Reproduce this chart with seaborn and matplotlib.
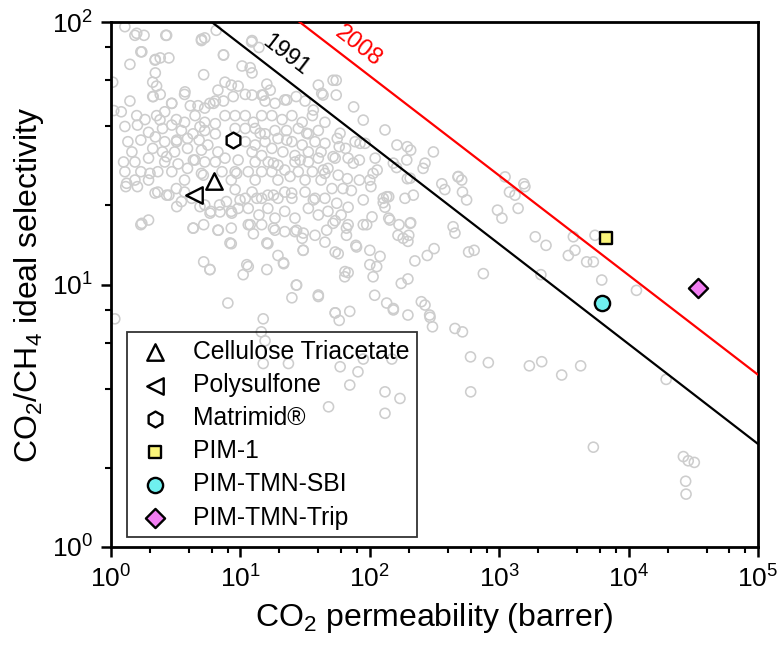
import numpy as np
import pandas as pd
import matplotlib
matplotlib.use("Agg")
import matplotlib.pyplot as plt
import seaborn as sns
from matplotlib.ticker import LogLocator, NullFormatter

# ---------------- data ----------------
# literature polymers (grey open circles): CO2 permeability (barrer), CO2/CH4 selectivity
bg_perm = [
    1.28, 1.53, 1.8, 2.65, 5.0, 5.3, 6.5, 12.3, 13.9, 1.7, 1.4, 2.2, 2.4, 2.8, 7.4, 10.3, 11.9, 12.3, 5.2, 2.2,
    2.1, 2.25, 3.7, 1.4, 2.1, 2.4, 2.95, 4.1, 4.7, 5.3, 5.8, 6.4, 7.4, 6.7, 7.6, 8.5, 9.6, 10.9, 12.3, 14.6,
    16, 17, 15.5, 18.5, 22, 27, 31.6, 40, 43.5, 1.2, 1.58, 1.83, 2.25, 2.6, 3.2, 3.7, 4.46, 5.3, 6.4, 7.6,
    9.1, 10.9, 12.6, 14.6, 17.5, 21, 25, 30, 36, 45, 1.28, 1.6, 1.95, 2.5, 2.95, 3.5, 4.3, 5.3, 6.4, 9.1,
    10.9, 13, 15.5, 18.5, 22.7, 28, 33.5, 40, 1.35, 1.7, 2.2, 2.6, 3.2, 3.9, 4.8, 5.6, 10.9, 13, 15.5, 19.5,
    25, 30, 37.7, 45, 1.45, 2.1, 2.5, 3.1, 3.9, 5.0, 6.7, 12.3, 14.6, 17.5, 21.3, 26.4, 33.5, 42, 54, 1.25,
    1.53, 1.95, 2.6, 3.3, 4.46, 5.3, 6.4, 7.6, 9.6, 13, 16.4, 19.5, 26.4, 33.5, 40, 47.5, 1.28, 1.7, 2.3, 2.95,
    3.9, 5.0, 7.2, 9.1, 11.5, 14.6, 17.5, 22, 28, 36, 45, 1.53, 1.95, 3.7, 8.5, 13, 19.5, 31.6, 42, 1.03,
    1.05,
    55, 55, 75, 89, 131, 162, 195, 207, 310, 267, 258, 68, 83, 110, 114, 58, 56, 65, 77, 92,
    57, 67, 83, 100, 195, 360, 480, 1110, 1550,
    1.3, 1.6, 2.3, 2.8, 3.2, 3.7, 3.5, 4.2, 5.3, 5.9, 6.9, 7.8, 9.1, 8.5, 9.6, 10.9, 12.3, 14.6, 16.3, 19.5,
    22, 25, 31.6, 37.7, 45, 51, 11.5, 13.9, 16.3, 18.5, 22, 26.4, 33.5, 40, 47.5, 1.7, 1.95, 4.3, 5.2, 6.7,
    8.5, 8.5, 11.5, 12.6, 14.6, 16.3, 18.5, 19.5, 22, 26.4, 30, 30.5, 37.7, 45, 54, 21.6, 5.2, 5.8, 11.5, 10.5,
    16, 27, 25, 40, 8, 1.07, 15, 14.5, 15.5, 54,
    62, 72, 102, 140, 127, 187, 68, 60, 54, 68, 89, 104, 131, 127, 140, 168, 207, 165, 200, 197,
    66, 78, 100, 57, 223, 278, 314, 100, 113, 68, 64, 106, 197, 175, 109, 135, 152, 197, 250, 267,
    290, 305, 455, 520, 54, 70, 58, 580, 640, 440, 455, 520, 560, 380, 970, 1050, 1400, 1200, 1580, 1900,
    2300, 2100, 600,
    193, 161, 205, 483, 513, 1325, 754,
    3740, 5500, 3420, 3850, 4740, 5340, 6200, 11500, 3040, 4260, 19500, 5340, 26500, 28900, 32200, 27600, 27800,
    824, 602, 1710, 2130, 131, 171, 131,
    15, 23.5, 59, 81, 70, 48, 89, 148,
    1.32, 2.19, 2.69, 3.22, 4.87, 5.82, 6.95, 8.57, 9.93, 13.4, 18, 24.9, 36.6, 55.5, 89, 135, 217, 1.73, 4.33, 6.75,
    11.9, 18, 27.2, 46.4, 66, 94.6, 143, 205, 30.6, 52, 8.3, 16, 30.6, 79, 120, 181, 5.82, 11.2, 21.5, 64.3,
    27.2, 40, 152, 292,
    1.58, 2.69, 5.0, 12.2, 1.73, 2.19, 7.4, 3.73, 2.12, 2.94, 6.2, 8.8, 15, 22.8, 36.6, 52, 42.5, 4.87, 2.39, 3.22,
    14.2, 22.8, 32.5, 58.9, 84, 2.69, 4.33, 18, 28.9, 52, 74.5, 2.0, 5.17, 9.36, 24.2, 43.7, 106, 152,
]
bg_sel = [
    96, 89, 89, 89, 85, 87, 93, 85, 80, 77, 69, 72, 73, 73, 75, 68, 67, 64, 63, 64,
    59, 57, 53, 50, 52, 53, 49, 48, 48, 47, 49, 50, 50, 55, 59, 57.5, 57, 53, 52.7, 52.7,
    58, 55, 50, 49, 50.5, 52, 50, 57.5, 52.7, 45.5, 44, 42.5, 44, 45.5, 42.5, 41.5, 44, 41.5, 41, 44,
    44, 44, 41.5, 44, 44, 42.5, 44, 41.5, 44, 41.5, 40, 40.5, 38, 39.3, 40.5, 38.6, 37.5, 38.6, 37.5, 39.3,
    39.3, 39.3, 37.5, 38.6, 38.6, 39.3, 37.5, 38.6, 35, 35.5, 36.5, 35, 35, 36, 35.5, 34, 35, 34, 35, 36,
    35, 34, 35, 34.5, 32, 33, 32, 32, 33, 32.5, 32, 32, 31, 33, 32, 31, 32, 32, 30.3, 29.3,
    29.3, 30.3, 29.3, 28.8, 29.8, 29.3, 29.3, 30.3, 29.8, 29.3, 29.3, 28.5, 29.3, 29.3, 30.3, 27.7, 26.9, 26.9, 26.9, 26.9,
    27.7, 26.5, 26.9, 26.9, 26.9, 26.9, 26.9, 27.3, 26.9, 26.9, 26.5, 25, 25, 25, 25, 25, 25, 25, 25, 59,
    46,
    60, 52.7, 47.5, 42.3, 38.8, 34, 33.5, 32.5, 32, 29, 27.7, 30.3, 29.8, 30.3, 27.3, 33.5, 36, 33, 35, 34.5,
    26.1, 25.3, 25, 25, 25.3, 24.2, 25.7, 25.7, 24.2,
    23.6, 23.6, 22.5, 21.9, 23.2, 22.5, 20.7, 21.3, 20.1, 19, 20.1, 20.7, 23, 19, 19.5, 21.3, 22.5, 21.3, 21.9, 21.3,
    22.5, 21.3, 22.5, 21.3, 21.3, 23.2, 19.5, 18.4, 19.5, 17.9, 19, 17.9, 19.5, 18.4, 19, 16.9, 17.6, 16.4, 16.9, 16.1,
    16.4, 14.3, 16.9, 15.6, 16.9, 14.3, 16.1, 12.9, 15.9, 15.9, 15, 13.5, 15.4, 14.5, 13.3, 12, 12.2, 11.4, 11.7, 10.9,
    11.4, 9.95, 8.9, 9, 8.5, 7.4, 7.4, 6.6, 6.1, 7.8,
    23.2, 22.8, 23.6, 21.6, 21.3, 21.3, 19.7, 18.4, 17.5, 16.9, 16.9, 18.1, 19.7, 20.5, 17.9, 16.9, 17.2, 15.4, 15.4, 14.6,
    15.4, 14.1, 13.5, 13.1, 12.3, 12.9, 13.7, 11.9, 11.7, 11.1, 10.7, 10.7, 10.5, 10.1, 9.1, 8.5, 8.0, 7.65, 8.6, 8.35,
    7.65, 6.9, 6.8, 6.6, 7.8, 7.9, 7.3, 13.3, 13.5, 16.6, 15.7, 22.5, 21, 23, 19.2, 17.9, 19.5, 22.5, 23.6, 15.2,
    14.1, 10.9, 5.3,
    29.8, 27.9, 25.4, 25.8, 25, 21.9, 11.0,
    15.2, 15.4, 12.9, 13.5, 12.2, 12.2, 10.4, 9.5, 4.52, 4.9, 4.35, 2.4, 2.21, 2.13, 2.1, 1.78, 1.59,
    5.04, 3.9, 4.9, 5.08, 3.9, 3.68, 3.23,
    5.0, 5.0, 4.86, 4.65, 4.14, 3.42, 5.2, 5.2,
    24.3, 22.3, 21.9, 19.8, 19.8, 18.7, 18.9, 18.7, 21, 21.3, 21.9, 22.3, 21, 20.4, 21, 21.6, 21.9, 17.1, 16.4, 16.1,
    16.9, 16.4, 16.1, 16.1, 16.4, 16.9, 17.6, 17.1, 15.7, 17.1, 14.4, 14.4, 13.5, 13.9, 12.8, 15, 11.4, 11.9, 12.1, 11.2,
    9.95, 9.12, 8.1, 7.5,
    90.6, 89, 86, 84, 77, 71.6, 74.8, 54.2, 52, 49, 49, 52, 52.7, 50.5, 46.2, 60, 53.5, 39.9, 42.4, 35.5,
    37.7, 35.5, 37.7, 37.7, 34.5, 30.7, 29.8, 29, 29.8, 30.7, 29, 26.5, 26.1, 26.5, 25.8, 27.3, 26.5, 29,
]

# highlighted membranes
materials = ["Cellulose Triacetate", "Polysulfone", "Matrimid\u00ae",
             "PIM-1", "PIM-TMN-SBI", "PIM-TMN-Trip"]
mat_perm = [6.2, 4.4, 8.8, 6650, 6200, 34200]
mat_sel = [24.9, 21.9, 35.5, 15.0, 8.5, 9.7]

# Robeson upper bounds: P = k * alpha^n
bound_years = ["1991", "2008"]
bound_k = [1073700, 5369140]
bound_n = [-2.6264, -2.636]
axis_perm = [1.0, 1.0e5]

# ---------------- styling ----------------
sns.set_theme(style="ticks")
plt.rcParams["font.family"] = ["Liberation Sans", "DejaVu Sans"]
plt.rcParams["mathtext.fontset"] = "custom"
plt.rcParams["mathtext.rm"] = "Liberation Sans"
plt.rcParams["mathtext.it"] = "Liberation Sans:italic"
plt.rcParams["mathtext.bf"] = "Liberation Sans:bold"

fig = plt.figure(figsize=(7.78, 6.48), dpi=100)
ax = fig.add_axes([0.1427, 0.1559, 0.8316, 0.8101])
ax.set_xscale("log")
ax.set_yscale("log")

bg = pd.DataFrame({"perm": bg_perm, "sel": bg_sel})
sns.scatterplot(data=bg, x="perm", y="sel", marker="o", s=52, facecolor="none",
                edgecolor="#cdcdcd", linewidth=1.15, ax=ax, legend=False, zorder=1)

line_colors = ["black", "red"]
for year, k, n, c in zip(bound_years, bound_k, bound_n, line_colors):
    sel_line = [(p / k) ** (1.0 / n) for p in axis_perm]
    sns.lineplot(x=axis_perm, y=sel_line, color=c, linewidth=1.6, ax=ax, zorder=3)

markers = ["^", "<", "h", "s", "o", "D"]
faces = ["white", "white", "white", "#fbf57a", "#6ff0ef", "#f27ef2"]
sizes = [140, 140, 130, 85, 120, 95]
for name, p, s_, mk, fc, sz in zip(materials, mat_perm, mat_sel, markers, faces, sizes):
    sns.scatterplot(x=[p], y=[s_], marker=mk, s=sz, color=fc, edgecolor="black",
                    linewidth=1.7, label=name, ax=ax, zorder=5)

ax.text(22.5, 74.5, "1991", rotation=-37.6, ha="center", va="center",
        fontsize=17, color="black", rotation_mode="anchor")
ax.text(82, 80.5, "2008", rotation=-37.6, ha="center", va="center",
        fontsize=17, color="red", rotation_mode="anchor")

ax.set_xlim(1, 1e5)
ax.set_ylim(1, 100)
for axis in (ax.xaxis, ax.yaxis):
    axis.set_major_locator(LogLocator(base=10, numticks=12))
    axis.set_minor_locator(LogLocator(base=10, subs=[2, 4, 6, 8], numticks=30))
    axis.set_minor_formatter(NullFormatter())
ax.tick_params(which="major", direction="out", length=7, width=1.8, labelsize=19,
               top=False, right=False, color="black", labelcolor="black", pad=6)
ax.tick_params(which="minor", direction="out", length=4, width=1.5,
               top=False, right=False, color="black")
for sp in ax.spines.values():
    sp.set_linewidth(2.0)
    sp.set_color("black")

ax.set_xlabel("CO$_2$ permeability (barrer)", fontsize=23, color="black", labelpad=6)
ax.set_ylabel("CO$_2$/CH$_4$ ideal selectivity", fontsize=23, color="black", labelpad=4)

handles, labels = ax.get_legend_handles_labels()
keep = [(h, l) for h, l in zip(handles, labels) if l in materials]
leg = ax.legend([h for h, _ in keep], [l for _, l in keep], loc="lower left",
                bbox_to_anchor=(0.0247, 0.019), borderaxespad=0, frameon=True,
                fancybox=False, fontsize=17.8, labelspacing=0.37, borderpad=0.3,
                handlelength=1.67, handletextpad=0.7, edgecolor="black")
leg.get_frame().set_facecolor("none")
leg.get_frame().set_linewidth(1.3)
for t in leg.get_texts():
    t.set_color("black")

fig.savefig("out.png", dpi=100)
